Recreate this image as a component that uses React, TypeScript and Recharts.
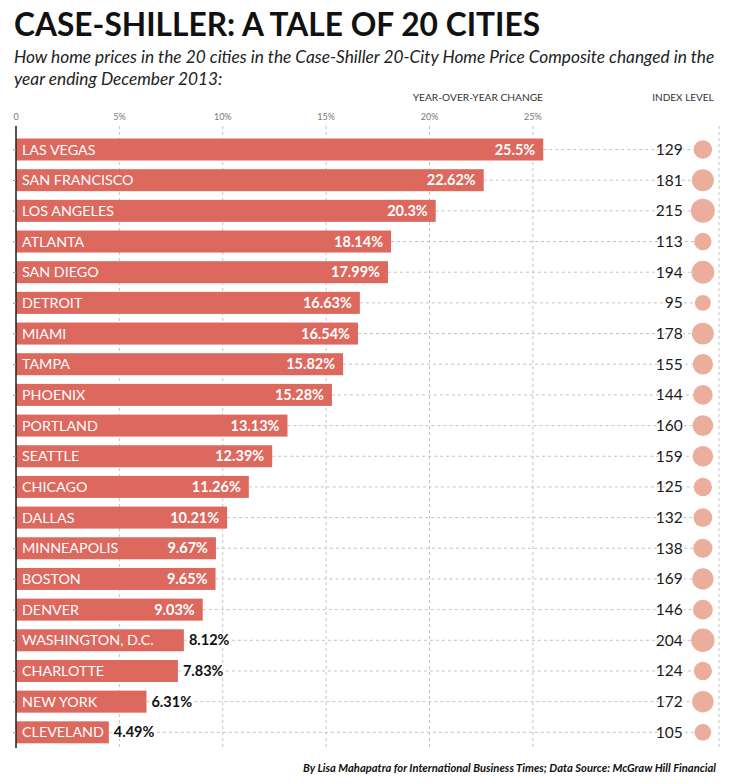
import { BarChart, Bar, XAxis, YAxis, CartesianGrid } from 'recharts';

const cities = [
  'LAS VEGAS', 'SAN FRANCISCO', 'LOS ANGELES', 'ATLANTA', 'SAN DIEGO',
  'DETROIT', 'MIAMI', 'TAMPA', 'PHOENIX', 'PORTLAND',
  'SEATTLE', 'CHICAGO', 'DALLAS', 'MINNEAPOLIS', 'BOSTON',
  'DENVER', 'WASHINGTON, D.C.', 'CHARLOTTE', 'NEW YORK', 'CLEVELAND',
];
const yoyChange = [
  25.5, 22.62, 20.3, 18.14, 17.99, 16.63, 16.54, 15.82, 15.28, 13.13,
  12.39, 11.26, 10.21, 9.67, 9.65, 9.03, 8.12, 7.83, 6.31, 4.49,
];
const indexLevel = [
  129, 181, 215, 113, 194, 95, 178, 155, 144, 160,
  159, 125, 132, 138, 169, 146, 204, 124, 172, 105,
];
const xTicks = [0, 5, 10, 15, 20, 25];

const data = cities.map((city, i) => ({
  city,
  change: yoyChange[i],
  index: indexLevel[i],
}));

const BAR = '#dc685e';
const DOT = '#ecae9c';
const GRID = '#c4c4c4';
const FONT = 'Lato, "Open Sans", sans-serif';

// where the index column sits, in axis units (%)
const NUM_AT = 32.25;
const DOT_AT = 33.22;
const INSIDE_MIN = 9;

const RowShape = (props: any) => {
  const { x, y, width, height, payload } = props;
  const unit = width / payload.change;
  const cy = y + height / 2;
  const end = x + width;
  const r = 0.818 * Math.sqrt(payload.index);
  const numX = x + NUM_AT * unit;
  const dotX = x + DOT_AT * unit;
  const inside = payload.change >= INSIDE_MIN;
  const label = `${payload.change}%`;
  return (
    <g>
      <line x1={end} x2={dotX - r} y1={cy} y2={cy} stroke={GRID} strokeDasharray="3 3" />
      <rect x={x} y={y} width={width} height={height} fill={BAR} />
      <text x={x + 6} y={cy} dy="0.35em" fill="#fff" fontSize={14.3} fontFamily={FONT}>
        {payload.city}
      </text>
      {inside ? (
        <text x={end - 8} y={cy} dy="0.35em" textAnchor="end" fill="#fff" fontSize={14.5} fontWeight={700} fontFamily={FONT}>
          {label}
        </text>
      ) : (
        <text x={end + 5} y={cy} dy="0.35em" fill="#111" fontSize={14.5} fontWeight={700} fontFamily={FONT}
          stroke="#fff" strokeWidth={4} paintOrder="stroke">
          {label}
        </text>
      )}
      <text x={numX} y={cy} dy="0.35em" textAnchor="end" fill="#1a1a1a" fontSize={15.5} fontFamily={FONT}
        stroke="#fff" strokeWidth={3} paintOrder="stroke">
        {payload.index}
      </text>
      <circle cx={dotX} cy={cy} r={r} fill={DOT} />
    </g>
  );
};

export default function App() {
  return (
    <div style={{ position: 'absolute', left: 0, top: 0, width: 736, height: 784, background: '#fff', fontFamily: FONT, color: '#111' }}>
      <div style={{ position: 'absolute', left: 14, top: 4, fontSize: 31.7, fontWeight: 700, lineHeight: '40px', whiteSpace: 'nowrap' }}>
        CASE-SHILLER: A TALE OF 20 CITIES
      </div>
      <div style={{ position: 'absolute', left: 14, top: 46, fontSize: 17.3, fontStyle: 'italic', lineHeight: '22px', whiteSpace: 'nowrap', color: '#222' }}>
        How home prices in the 20 cities in the Case-Shiller 20-City Home Price Composite changed in the
        <br />
        year ending December 2013:
      </div>
      <div style={{ position: 'absolute', right: 193, top: 91, fontSize: 10.2, color: '#333', whiteSpace: 'nowrap' }}>
        YEAR-OVER-YEAR CHANGE
      </div>
      <div style={{ position: 'absolute', left: 633, width: 100, textAlign: 'center', top: 91, fontSize: 10, color: '#333', whiteSpace: 'nowrap' }}>
        INDEX LEVEL
      </div>

      <div style={{ position: 'absolute', left: 0, top: 0 }}>
        <BarChart
          width={736}
          height={784}
          data={data}
          layout="vertical"
          margin={{ top: 96, right: 17, bottom: 36, left: 12 }}
          barSize={22}
        >
          <CartesianGrid horizontal={false} vertical stroke={GRID} strokeDasharray="3 3" />
          <XAxis
            type="number"
            orientation="top"
            domain={[0, 34]}
            ticks={xTicks}
            tickFormatter={(v: number) => (v === 0 ? '0' : `${v}%`)}
            axisLine={false}
            tickLine={false}
            tickSize={0}
            tickMargin={6}
            height={30}
            tick={{ fontSize: 9, fill: '#777', fontFamily: FONT }}
          />
          <YAxis
            type="category"
            dataKey="city"
            width={4}
            tick={() => <g />}
            tickSize={3}
            padding={{ top: 8.5, bottom: 0 }}
            axisLine={{ stroke: '#222', strokeWidth: 1.5 }}
            tickLine={{ stroke: '#999' }}
          />
          <Bar dataKey="change" shape={RowShape} isAnimationActive={false} />
        </BarChart>
      </div>

      <div style={{ position: 'absolute', right: 20, top: 761, fontSize: 11.2, fontWeight: 700, fontStyle: 'italic', whiteSpace: 'nowrap', color: '#111' }}>
        By Lisa Mahapatra for International Business Times; Data Source: McGraw Hill Financial
      </div>
    </div>
  );
}
